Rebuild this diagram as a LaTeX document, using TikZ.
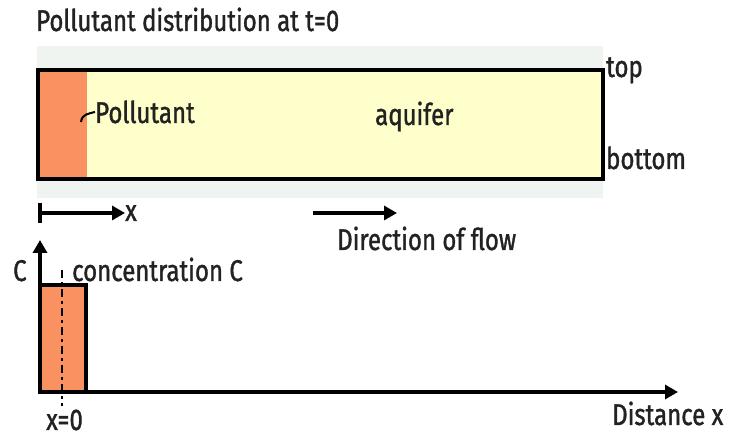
\documentclass[tikz,border=0pt]{standalone}
\usepackage{fontspec}
\setmainfont{Fira Sans}[FakeStretch=0.8,FakeBold=1.2]
\usetikzlibrary{arrows.meta}
\definecolor{aquiferyellow}{HTML}{FFFFCC}
\definecolor{pollutantorange}{HTML}{FA9160}
\definecolor{bandgray}{HTML}{EFF4F1}
\definecolor{inkgray}{HTML}{222222}

\begin{document}
\begin{tikzpicture}[x=1pt,y=-1pt,
    lbl/.style={inner sep=0pt,anchor=base west,text=inkgray,
                font=\fontsize{30}{34}\selectfont},
    arr/.style={line width=3.5pt,-{Triangle[length=13pt,width=14pt]}}]
        \useasboundingbox (0,0) rectangle (729,438);

        % Распределение загрязнения в момент t=0.
        \node[lbl] (title) at (36,31) {Pollutant distribution at t=0};

        % Фон и водоносный слой.
        \fill[bandgray] (37,46) rectangle (603,198);
        \fill[aquiferyellow] (38,70) rectangle (603,179);
        \fill[pollutantorange] (38,70) rectangle (87,179);
        \draw[line width=4.5pt] (38,70) rectangle (603,179);

        \node[lbl] (pollutant) at (95,123) {Pollutant};
        \coordinate (squig) at (81,122);
        \draw[line width=2pt] (squig) .. controls (82,114) and (88,114) .. (pollutant.west);
        \node[lbl] (aquifer) at (375,125) {aquifer};
        \node[lbl] (top) at (606,77) {top};
        \node[lbl] (bottom) at (606,169) {bottom};

        % Ось x и направление потока.
        \coordinate (x0) at (40,213);
        \node[lbl] (xlbl) at (125,221) {x};
        \draw[line width=3.5pt] (40,203) -- (40,223);
        \draw[arr] (x0) -- (xlbl.west |- x0);
        \coordinate (flowa) at (313,213);
        \coordinate (flowb) at (397,213);
        \draw[arr] (flowa) -- (flowb);
        \node[lbl] (flow) at (337,250) {Direction of flow};

        % График концентрации.
        \coordinate (origin) at (40,392);
        \coordinate (ytip) at (40,240);
        \coordinate (xtip) at (678,392);
        \filldraw[fill=pollutantorange,line width=3.5pt] (40,285) rectangle (86,392);
        \draw[arr] (origin) -- (ytip);
        \draw[arr] (38,392) -- (xtip);
        \draw[line width=2.8pt,dash pattern=on 8pt off 4pt on 3pt off 4pt] (62,270) -- (62,406);

        \node[lbl] (clbl) at (13,281) {C};
        \node[lbl] (conc) at (72,281) {concentration C};
        \node[lbl] (xzero) at (46,430) {x=0};
        \node[lbl] (dist) at (612,425) {Distance x};
    \end{tikzpicture}
\end{document}
